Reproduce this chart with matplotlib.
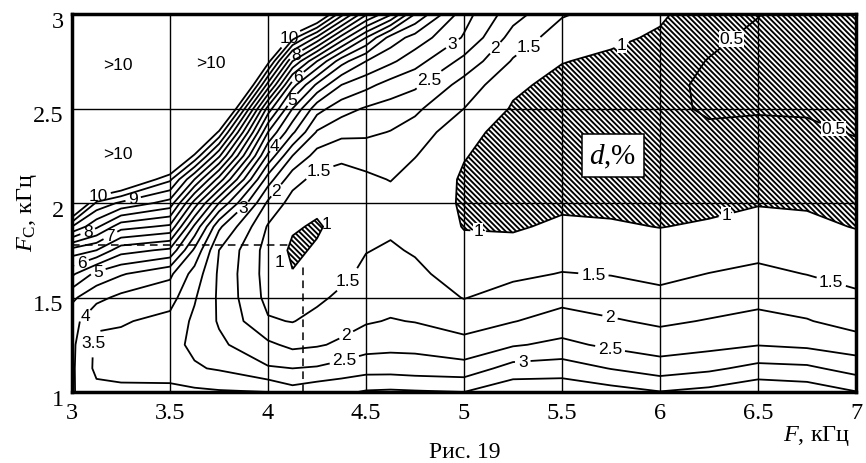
import numpy as np
import matplotlib
matplotlib.use("Agg")
import matplotlib.pyplot as plt
from matplotlib.transforms import ScaledTranslation, IdentityTransform
from matplotlib.patches import PathPatch
from matplotlib.collections import LineCollection

plt.rcParams["font.family"] = ["Liberation Sans", "DejaVu Sans"]
plt.rcParams["mathtext.fontset"] = "custom"
plt.rcParams["mathtext.rm"] = "Liberation Serif"
plt.rcParams["mathtext.it"] = "Liberation Serif:italic"

# -------- DATA -------- #
# grid of F (x, kHz) and Fc (y, kHz)
F = [3.0, 3.125, 3.25, 3.5, 3.625, 3.75, 4.0, 4.125, 4.25, 4.375, 4.5, 4.625,
     4.75, 5.0, 5.25, 5.5, 5.75, 6.0, 6.25, 6.5, 6.75, 7.0]
Fc = [1.0, 1.125, 1.25, 1.375, 1.5, 1.625, 1.75, 1.875, 2.0,
      2.125, 2.25, 2.375, 2.5, 2.625, 2.75, 2.875, 3.0]

# d, % -- one list per F column, from Fc = 1 up to Fc = 3
d_cols = [
    [4.05, 4.08, 4.1, 4.2, 4.6, 5.6, 6.8, 9.0, 11.5, 13, 14, 15, 15, 15, 15, 15, 15],
    [3.65, 3.38, 3.4, 3.58, 4.15, 4.85, 6.5, 8.1, 9.4, 11.5, 13.5, 15, 15, 15, 15, 15, 15],
    [3.6, 3.35, 3.35, 3.55, 3.88, 4.55, 5.7, 7.2, 8.9, 11.0, 13, 14, 15, 15, 15, 15, 15],
    [3.65, 3.25, 3.15, 3.35, 3.7, 4.1, 5.4, 6.9, 8.3, 9.6, 11.5, 13, 15, 15, 15, 15, 15],
    [3.6, 3.05, 2.9, 2.9, 3.05, 3.3, 3.9, 4.9, 6.3, 8.0, 9.9, 11.8, 13.5, 15, 15, 15, 15],
    [3.55, 2.95, 2.6, 2.45, 2.42, 2.42, 2.5, 3.1, 4.5, 6.3, 8.1, 9.9, 12, 14, 15, 15, 15],
    [3.5, 2.55, 2.1, 1.55, 1.35, 1.3, 1.3, 1.45, 1.9, 2.75, 3.9, 5.0, 6.3, 8.3, 10.2, 12.5, 14],
    [3.2, 2.5, 1.88, 1.48, 1.3, 1.02, 0.92, 1.05, 1.3, 1.68, 2.5, 3.6, 4.5, 5.7, 7.5, 9.7, 12],
    [3.35, 2.55, 1.95, 1.65, 1.4, 1.2, 1.05, 0.95, 1.1, 1.35, 1.8, 2.45, 3.2, 4.4, 6.0, 8.4, 11],
    [3.4, 2.7, 2.08, 1.82, 1.6, 1.38, 1.2, 1.15, 1.2, 1.3, 1.6, 2.15, 2.7, 3.5, 4.7, 6.8, 9.2],
    [3.55, 2.8, 2.3, 1.95, 1.78, 1.62, 1.48, 1.35, 1.3, 1.4, 1.7, 2.1, 2.45, 3.15, 4.0, 5.5, 7.6],
    [3.58, 2.8, 2.35, 2.03, 1.82, 1.7, 1.56, 1.42, 1.3, 1.52, 1.75, 1.98, 2.3, 2.8, 3.6, 4.3, 6.6],
    [3.55, 2.75, 2.35, 1.98, 1.78, 1.62, 1.45, 1.32, 1.25, 1.3, 1.52, 1.8, 2.1, 2.6, 3.2, 3.8, 5.0],
    [3.5, 2.7, 2.15, 1.8, 1.48, 1.25, 1.12, 0.98, 0.95, 0.95, 1.02, 1.12, 1.5, 1.8, 2.35, 2.95, 3.2],
    [3.85, 3.2, 2.45, 1.98, 1.7, 1.4, 1.15, 0.95, 0.85, 0.8, 0.82, 0.85, 0.95, 1.1, 1.45, 1.8, 2.2],
    [3.85, 3.25, 2.62, 2.2, 1.85, 1.52, 1.28, 1.08, 0.92, 0.8, 0.72, 0.7, 0.75, 0.85, 1.02, 1.25, 1.55],
    [3.7, 2.98, 2.4, 2.05, 1.75, 1.48, 1.25, 1.05, 0.9, 0.78, 0.7, 0.65, 0.65, 0.72, 0.9, 1.1, 1.3],
    [3.52, 2.75, 2.25, 1.92, 1.63, 1.38, 1.18, 0.99, 0.85, 0.75, 0.68, 0.62, 0.6, 0.62, 0.72, 0.93, 1.08],
    [3.65, 2.9, 2.35, 2.03, 1.75, 1.51, 1.25, 1.05, 0.9, 0.78, 0.66, 0.56, 0.45, 0.42, 0.48, 0.6, 0.7],
    [3.9, 3.15, 2.48, 2.15, 1.85, 1.6, 1.38, 1.18, 0.97, 0.8, 0.68, 0.58, 0.47, 0.38, 0.35, 0.4, 0.52],
    [3.8, 3.1, 2.4, 2.03, 1.75, 1.49, 1.28, 1.1, 0.95, 0.82, 0.7, 0.58, 0.45, 0.36, 0.3, 0.28, 0.28],
    [3.52, 2.8, 2.25, 1.8, 1.57, 1.38, 1.18, 0.98, 0.85, 0.74, 0.62, 0.47, 0.4, 0.33, 0.28, 0.25, 0.25],
]

levels = [0.5, 1, 1.5, 2, 2.5, 3, 3.5, 4, 4.5, 5, 5.5, 6, 6.5, 7, 7.5, 8, 8.5, 9, 9.5, 10]

# where the labels sit on the lines
label_pos = {
    10: [(3.13, 2.06), (4.07, 2.91)],
    9: [(3.31, 2.03)],
    8: [(3.08, 1.85), (4.14, 2.79)],
    7: [(3.19, 1.84)],
    6: [(3.05, 1.68), (4.15, 2.67)],
    5: [(3.13, 1.65), (4.12, 2.55)],
    4: [(3.07, 1.40), (4.03, 2.31)],
    3.5: [(3.12, 1.26)],
    3: [(3.87, 1.98), (4.95, 2.83), (5.30, 1.16)],
    2.5: [(4.83, 2.64), (4.40, 1.13), (5.74, 1.20)],
    2: [(4.05, 2.06), (5.15, 2.83), (4.40, 1.30), (5.74, 1.37)],
    1.5: [(4.26, 2.17), (5.35, 2.80), (4.42, 1.58), (5.66, 1.62), (6.87, 1.57)],
    1: [(5.80, 2.85), (5.07, 1.80), (6.34, 1.93)],
    0.5: [(6.42, 2.80), (6.87, 2.35)],
}

# optimum point marked with dashed lines
F_opt = 4.18
Fc_opt = 1.78

f_ticks = [3, 3.5, 4, 4.5, 5, 5.5, 6, 6.5, 7]
f_tick_labels = ["3", "3.5", "4", "4.5", "5", "5.5", "6", "6.5", "7"]
fc_ticks = [1, 1.5, 2, 2.5, 3]
fc_tick_labels = ["1", "1.5", "2", "2.5", "3"]

# -------- PLOT -------- #
D = np.array(d_cols).T

fig = plt.figure(figsize=(8.66, 4.64), dpi=100)
ax = fig.add_axes([72 / 866, 1 - 393 / 464, 784 / 866, 378 / 464])

# d < 1 area: diagonal stripes clipped to the filled contour
cf = ax.contourf(F, Fc, D, levels=[0, 1], colors="none", zorder=1)
clip = PathPatch(cf.get_paths()[0], transform=ax.transData, fc="none", ec="none")
ax.add_patch(clip)
step = 5.3  # px between stripes
stripes = [[(x0, 470), (x0 + 470, 0)] for x0 in np.arange(-480, 880, step)]
lc = LineCollection(stripes, transform=IdentityTransform(), colors="k",
                    linewidths=1.35, zorder=1)
ax.add_collection(lc, autolim=False)
lc.set_clip_path(clip)

# one contour set per level so each can be labelled by hand
for lev in levels:
    cs = ax.contour(F, Fc, D, levels=[lev], colors="k", linewidths=1.3, zorder=3)
    if lev not in label_pos:
        continue
    ax.clabel(cs, manual=label_pos[lev], inline=True, inline_spacing=3,
              fontsize=12.5, fmt=lambda v: f"{v:g}")
    for t in cs.labelTexts:
        t.set_rotation(0)
        if lev <= 1:
            t.set_bbox(dict(fc="white", ec="none", pad=0.3))

# small-ellipse labels sit next to it
ax.text(4.30, 1.89, "1", fontsize=12.5, ha="center", va="center")
ax.text(4.06, 1.69, "1", fontsize=12.5, ha="center", va="center")

for x, y in [(3.235, 2.735), (3.71, 2.745), (3.235, 2.26)]:
    ax.text(x, y, ">10", fontsize=12.5, ha="center", va="center")

ax.plot([3.0, 4.1], [Fc_opt, Fc_opt], color="k", lw=1.1, ls=(0, (5, 3.5)), zorder=3)
ax.plot([F_opt, F_opt], [1.0, 1.68], color="k", lw=1.1, ls=(0, (5, 3.5)), zorder=3)

ax.text(5.76, 2.25, r"$d$,%", family="Liberation Serif", fontsize=21,
        ha="center", va="center", zorder=6,
        bbox=dict(boxstyle="square,pad=0.25", fc="white", ec="black", lw=1.1))

ax.set_xlim(3, 7)
ax.set_ylim(1, 3)
ax.set_xticks(f_ticks)
ax.set_xticklabels(f_tick_labels, family="Liberation Serif", fontsize=17.5)
ax.set_yticks(fc_ticks)
ax.set_yticklabels(fc_tick_labels, family="Liberation Serif", fontsize=17.5)
ax.tick_params(length=0, pad=6)
ax.tick_params(axis="x", pad=7)
for lbl in ax.get_yticklabels():
    lbl.set_transform(lbl.get_transform() + ScaledTranslation(0, -5 / 100, fig.dpi_scale_trans))
ax.grid(True, color="k", lw=1.0, zorder=2)
ax.set_axisbelow(False)
for s in ax.spines.values():
    s.set_linewidth(2.5)
    s.set_zorder(7)

fig.text(850 / 866, 1 - 436 / 464, "$F$, кГц", family="Liberation Serif",
         fontsize=17.5, ha="right", va="center")
fig.text(27 / 866, 1 - 212 / 464, r"$F_{\mathrm{С}}$, кГц", family="Liberation Serif",
         fontsize=17.5, ha="center", va="center", rotation=90)
fig.text(465 / 866, 1 - 458 / 464, "Рис. 19", family="Liberation Serif",
         fontsize=17, ha="center", va="baseline")

fig.savefig("out.png", dpi=100)
